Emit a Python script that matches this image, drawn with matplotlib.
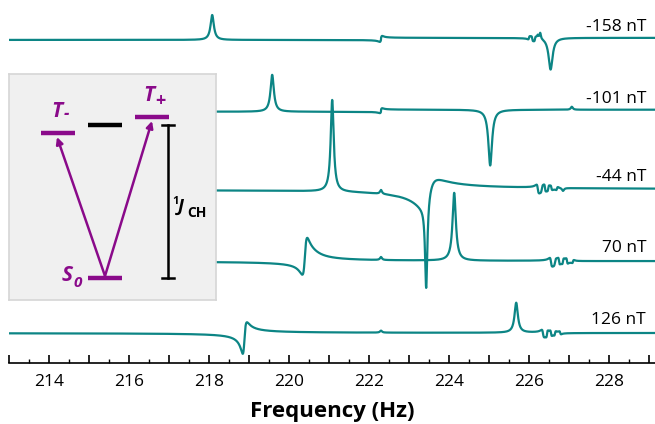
import numpy as np
import matplotlib
matplotlib.use("Agg")
import matplotlib.pyplot as plt
from matplotlib import transforms
from matplotlib.ticker import MultipleLocator, FuncFormatter

plt.rcParams['font.family'] = ['Open Sans', 'DejaVu Sans']

# ---- data ------------------------------------------------------------------
field_labels = ['-158 nT', '-101 nT', '-44 nT', '70 nT', '126 nT']

# each line: (centre Hz, absorptive amp, dispersive amp, half width Hz)
lines_158 = [(218.08, 25, 0, 0.05), (222.30, 0, 4, 0.03),
             (226.00, 0, 3, 0.02), (226.08, 0, -4, 0.02), (226.15, 0, 4, 0.02),
             (226.22, 3, 0, 0.02), (226.28, 6, 0, 0.02),
             (226.54, -32, 0, 0.06)]
lines_101 = [(219.58, 37, 0, 0.05), (222.30, 0, 3, 0.03),
             (225.03, -56, 0, 0.055), (227.07, 3, 0, 0.03)]
lines_44 = [(221.08, 92, 0, 0.045), (222.30, 4, 0, 0.03),
            (223.43, -90, 0, 0.035), (223.46, -5, 26, 0.2),
            (226.22, 0, -8, 0.03), (226.32, 0, 6, 0.03), (226.40, 0, -6, 0.02),
            (226.48, 0, 5, 0.02), (226.56, 0, -4, 0.02), (226.70, 0, 3, 0.02),
            (226.85, -3, 0, 0.03)]
lines_70 = [(220.40, 3, 36, 0.06), (220.50, 4, 0, 0.3), (222.30, 3, 0, 0.03),
            (224.13, 68, 0, 0.05),
            (226.55, 0, -8, 0.03), (226.65, 0, 6, 0.03), (226.75, 0, -6, 0.02),
            (226.85, 0, 5, 0.02), (226.95, 0, -5, 0.02), (227.10, 0, 3, 0.02)]
lines_126 = [(218.88, -10, 30, 0.05), (222.30, 2, 0, 0.03),
             (225.68, 30, 0, 0.05),
             (226.35, 0, -7, 0.03), (226.45, 0, 6, 0.02), (226.55, 0, -5, 0.02),
             (226.65, 0, 4, 0.02), (226.78, 0, -3, 0.02)]
all_lines = [lines_158, lines_101, lines_44, lines_70, lines_126]

# baseline steps (position Hz, height)
steps = [[(222.30, 2)], [(222.30, 2)], [], [], []]

# vertical stacking (layout, in pixel-like units)
offsets = [385, 313, 235, 163, 91]

TEAL = '#0c8585'
PURPLE = '#8a0a8a'


def spectrum(x, lines, stp):
    y = np.zeros_like(x)
    for x0, a, d, g in lines:
        den = (x - x0) ** 2 + g ** 2
        y += a * g ** 2 / den + d * g * (x - x0) / den
    for xs, h in stp:
        y += np.where(x > xs, h, 0.0)
    return y


freq = np.linspace(213.0, 229.2, 6000)

fig = plt.figure(figsize=(6.55, 4.24), dpi=100)
ax = fig.add_axes([9 / 655, (424 - 363) / 424, 646 / 655, 360 / 424])

for lines, stp, off in zip(all_lines, steps, offsets):
    ax.plot(freq, spectrum(freq, lines, stp) + off, color=TEAL, lw=1.6)

lab_tr = transforms.blended_transform_factory(fig.transFigure, ax.transData)
for lab, off in zip(field_labels, offsets):
    ax.text(646 / 655, off + 13, lab, transform=lab_tr, ha='right',
            va='center', fontsize=12.5)

ax.set_xlim(213.0, 229.15)
ax.set_ylim(61, 422)
for s in ['left', 'right', 'top']:
    ax.spines[s].set_visible(False)
ax.spines['bottom'].set_linewidth(1.2)
ax.set_yticks([])
ax.xaxis.set_major_locator(MultipleLocator(1))
ax.xaxis.set_minor_locator(MultipleLocator(0.5))
ax.xaxis.set_major_formatter(
    FuncFormatter(lambda v, p: f'{v:.0f}' if round(v) % 2 == 0 else ''))
ax.tick_params(axis='x', which='major', direction='in', length=6, width=1.2,
               labelsize=12.5, pad=8)
ax.tick_params(axis='x', which='minor', direction='in', length=3, width=1.0)
ax.set_xlabel('Frequency (Hz)', fontsize=16, fontweight='bold', labelpad=8)

# ---- inset energy-level diagram (pixel coordinates of the figure) ----------
ins = fig.add_axes([9 / 655, (424 - 300) / 424, 207 / 655, 226 / 424])
ins.set_facecolor('#f0f0f0')
for s in ins.spines.values():
    s.set_color('#d6d6d6')
    s.set_linewidth(1.2)
ins.set_xticks([])
ins.set_yticks([])
ins.set_xlim(9, 216)
ins.set_ylim(300, 74)

level_w = 34
t_minus = (41, 133)
t_zero = (88, 125)
t_plus = (135, 117)
s_zero = (88, 278)

for (lx, ly), col in [(t_minus, PURPLE), (t_zero, 'black'),
                      (t_plus, PURPLE), (s_zero, PURPLE)]:
    ins.plot([lx, lx + level_w], [ly, ly], color=col, lw=3.2,
             solid_capstyle='butt')

start = (s_zero[0] + level_w / 2, s_zero[1] - 2)
for tx, ty in [(t_minus[0] + level_w / 2 - 1, t_minus[1] + 4),
               (t_plus[0] + level_w / 2, t_plus[1] + 4)]:
    ins.annotate('', xy=(tx, ty), xytext=start,
                 arrowprops=dict(arrowstyle='-|>', color=PURPLE, lw=1.8,
                                 mutation_scale=10, shrinkA=0, shrinkB=0))

bar_x = 168
ins.plot([bar_x, bar_x], [t_zero[1], s_zero[1]], color='black', lw=1.8)
for yy in [t_zero[1], s_zero[1]]:
    ins.plot([bar_x - 6, bar_x + 6], [yy, yy], color='black', lw=1.8)

ins.text(57, 122, 'T', color=PURPLE, fontsize=15, fontweight='bold',
         fontstyle='italic', ha='center', va='bottom')
ins.text(64, 123, '-', color=PURPLE, fontsize=12, fontweight='bold',
         fontstyle='italic', ha='left', va='bottom')
ins.text(149, 106, 'T', color=PURPLE, fontsize=15, fontweight='bold',
         fontstyle='italic', ha='center', va='bottom')
ins.text(155, 110, '+', color=PURPLE, fontsize=13, fontweight='bold',
         ha='left', va='bottom')
ins.text(67, 286, 'S', color=PURPLE, fontsize=15, fontweight='bold',
         fontstyle='italic', ha='center', va='bottom')
ins.text(73, 290, '0', color=PURPLE, fontsize=11, fontweight='bold',
         fontstyle='italic', ha='left', va='bottom')

ins.text(172, 207, '1', color='black', fontsize=8, fontweight='bold',
         ha='left', va='bottom')
ins.text(178, 216, 'J', color='black', fontsize=13, fontweight='bold',
         fontstyle='italic', ha='left', va='bottom')
ins.text(187, 220, 'CH', color='black', fontsize=10, fontweight='bold',
         ha='left', va='bottom')

fig.savefig('out.png', dpi=100)
